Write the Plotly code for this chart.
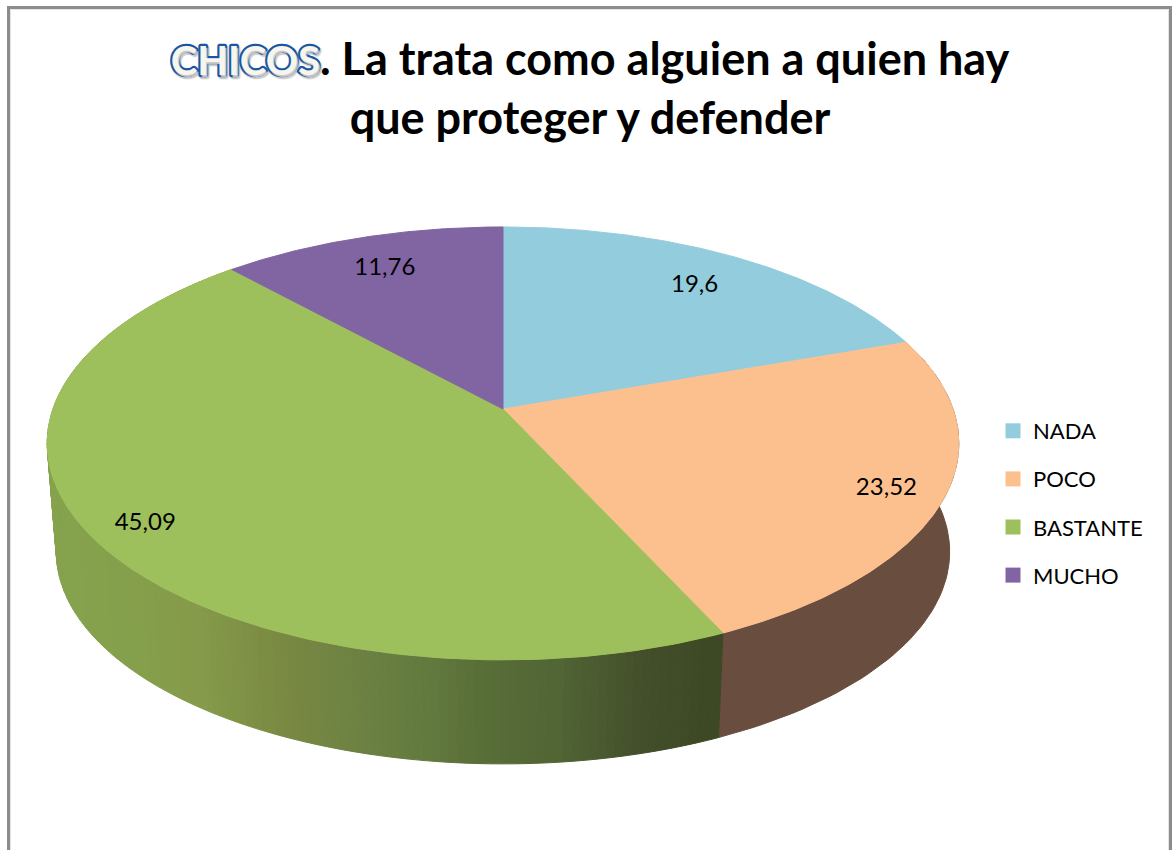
import numpy as np
import plotly.graph_objects as go

# ---- chart data ----
categories = ["NADA", "POCO", "BASTANTE", "MUCHO"]
values = [19.6, 23.52, 45.09, 11.76]
value_labels = ["19,6", "23,52", "45,09", "11,76"]

# ---- styling ----
top_colors = ["#93CDDD", "#FCC08F", "#9EC05C", "#8165A3"]
wall_brown = "#694D3F"
wall_stops_x = [50, 130, 200, 280, 350, 420, 480, 560, 640, 700, 722]
wall_stops_c = ["#86A34E", "#85A04C", "#859A4A", "#7A8A42", "#6E8243", "#647B40",
                "#596F38", "#516535", "#44502B", "#3E4926", "#3D4825"]
FONT = "Lato, Carlito, Calibri, sans-serif"
TEXT = "#000000"

# ---- projection of the pie disc (perspective) ----
CX, CY, A, B, K = 503.0, 409.0, 211.0, 450.0, 0.159
BOTTOM_SCALE, BOTTOM_CY = 0.98, 518.0
LABEL_R = [0.815, 0.875, 0.88, 0.815]
LABEL_DY = 3.5


def project(theta, r=1.0, bottom=False):
    X, Y = r * np.sin(theta), r * np.cos(theta)
    w = 1 + K * Y
    s = BOTTOM_SCALE if bottom else 1.0
    cy = BOTTOM_CY if bottom else CY
    return CX + s * B * X / w, cy - s * A * Y / w


def hex_rgb(c):
    return np.array([int(c[i:i + 2], 16) for i in (1, 3, 5)], float)


def wall_color(x):
    rgb = [np.interp(x, wall_stops_x, [hex_rgb(c)[i] for c in wall_stops_c]) for i in range(3)]
    return "rgb(%d,%d,%d)" % tuple(rgb)


fractions = np.array(values) / np.sum(values)
edges = np.concatenate([[0], np.cumsum(fractions)]) * 2 * np.pi

fig = go.Figure()


def poly(xs, ys, color):
    fig.add_trace(go.Scatter(x=xs, y=ys, mode="lines", fill="toself", fillcolor=color,
                             line=dict(color=color, width=1), hoverinfo="skip", showlegend=False))


# side wall of POCO (solid brown)
th = np.linspace(edges[1], edges[2], 60)
xt, yt = project(th)
xb, yb = project(th, bottom=True)
poly(np.r_[xt, xb[::-1], xt[0]], np.r_[yt, yb[::-1], yt[0]], wall_brown)

# side wall of BASTANTE (shaded along its length)
th_edges = np.linspace(edges[2], edges[3], 170)
for t0, t1 in zip(th_edges[:-1], th_edges[1:]):
    th = np.array([t0, t1])
    xt, yt = project(th)
    xb, yb = project(th, bottom=True)
    poly(np.r_[xt, xb[::-1], xt[0]], np.r_[yt, yb[::-1], yt[0]], wall_color(xt.mean()))

# top faces
for i in range(len(values)):
    th = np.linspace(edges[i], edges[i + 1], 160)
    xt, yt = project(th)
    x0, y0 = project(np.array([0.0]), r=0.0)
    poly(np.r_[x0, xt, x0], np.r_[y0, yt, y0], top_colors[i])

# value labels
mids = (edges[:-1] + edges[1:]) / 2
lx, ly = project(mids, r=np.array(LABEL_R))
fig.add_trace(go.Scatter(x=lx, y=ly + LABEL_DY, mode="text", text=value_labels,
                         textposition="middle center",
                         textfont=dict(family=FONT, size=24, color=TEXT),
                         hoverinfo="skip", showlegend=False))

# legend entries
for name, color in zip(categories, top_colors):
    fig.add_trace(go.Scatter(x=[None], y=[None], mode="markers", name=name, legendgroup=name,
                             marker=dict(symbol="square", size=15, color=color)))

title = ("<span style=\"font-size:40px;color:#F7F5EC;stroke:#1A56A3;stroke-width:4.4px;"
         "stroke-linejoin:round;paint-order:stroke;text-shadow:1.5px 1.5px 1px #CCCCCC\">CHICOS</span>"
         ". La trata como alguien a quien hay<br>"
         "que proteger y defender")

frame_x = [8.5, 1170.5]
fig.update_layout(
    width=1172, height=850,
    margin=dict(l=0, r=0, t=0, b=0),
    paper_bgcolor="white", plot_bgcolor="white",
    title=dict(text=title, x=590 / 1172, xanchor="center", y=1 - 75 / 850, yanchor="middle",
               font=dict(family=FONT, size=45, color=TEXT, weight="bold")),
    xaxis=dict(range=[0, 1172], visible=False, fixedrange=True),
    yaxis=dict(range=[850, 0], visible=False, fixedrange=True),
    legend=dict(x=993 / 1172, xanchor="left", y=1 - 410 / 850, yanchor="top",
                font=dict(family=FONT, size=22, color=TEXT), tracegroupgap=16.5,
                itemwidth=30, bgcolor="rgba(0,0,0,0)"),
    shapes=[
        dict(type="rect", xref="x", yref="y", x0=frame_x[0] + 2, x1=frame_x[1] - 2, y0=9.5, y1=870,
             line=dict(color="#E4E4E4", width=1), layer="below"),
        dict(type="rect", xref="x", yref="y", x0=frame_x[0], x1=frame_x[1], y0=7.5, y1=870,
             line=dict(color="#8C8C8C", width=3), layer="below"),
    ],
)

fig.write_html("out.html", config=dict(displayModeBar=False),
               post_script="document.body.style.margin='0';document.body.style.overflow='hidden';")
